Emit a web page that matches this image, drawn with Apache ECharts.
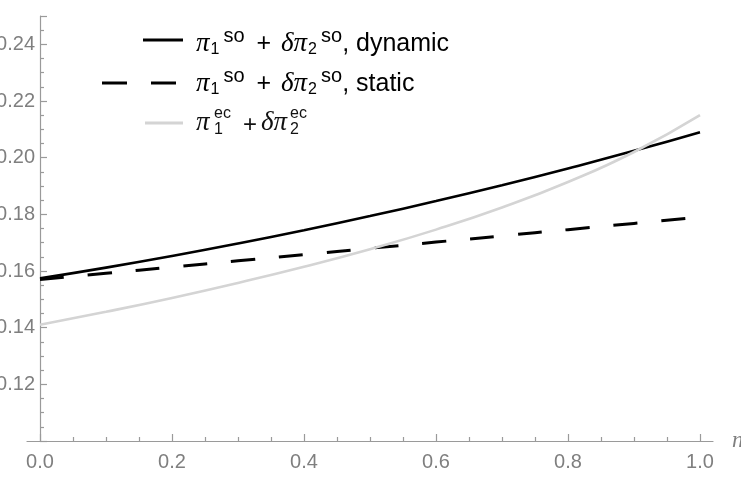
<!DOCTYPE html>
<html>
<head>
<meta charset="utf-8">
<script src="https://cdn.jsdelivr.net/npm/echarts@6/dist/echarts.min.js"></script>
<style>
html,body{margin:0;padding:0;background:#fff;}
#chart{width:741px;height:488px;}
</style>
</head>
<body>
<div id="chart"></div>
<script>
// ---- data ----
var xValues = [0, 0.1, 0.2, 0.3, 0.4, 0.5, 0.6, 0.7, 0.8, 0.9, 1.0];
var dynamicSO = [0.1574, 0.1612, 0.1653, 0.1697, 0.1744, 0.1794, 0.1847, 0.1903, 0.1962, 0.2024, 0.2090];
var staticSO  = [0.1570, 0.1592, 0.1614, 0.1636, 0.1658, 0.1680, 0.1702, 0.1724, 0.1746, 0.1768, 0.1790];
var ecValues  = [0.1410, 0.1456, 0.1505, 0.1558, 0.1615, 0.1677, 0.1746, 0.1824, 0.1914, 0.2020, 0.2150];
var xAxisName = 'n';

function pairs(ys){ return xValues.map(function(x,i){ return [x, ys[i]]; }); }

var AX = '#9a9a9a';
var LBL = '#7f7f7f';
var SANS = '"Liberation Sans", Arial, sans-serif';
var GREEK = '"Liberation Serif", serif';

var chart = echarts.init(document.getElementById('chart'), null, {renderer:'canvas'});

var richStyles = {
  g:   {fontFamily: GREEK, fontStyle:'italic', fontSize: 27, color:'#111'},
  sub: {fontFamily: SANS, fontSize: 16, color:'#111', padding:[11,0,0,1]},
  sup: {fontFamily: SANS, fontSize: 20, color:'#111', padding:[0,0,15,4]},
  op:  {fontFamily: SANS, fontSize: 25, color:'#111', padding:[0,3,0,5]},
  t:   {fontFamily: SANS, fontSize: 25, color:'#111'}
};

var option = {
  animation: false,
  backgroundColor: '#fff',
  grid: [
    {left: 40, right: 41, top: 16, bottom: 47, containLabel: false, outerBoundsMode: 'none'},
    {left: 27, right: 28, top: 16, bottom: 47, containLabel: false, outerBoundsMode: 'none'}
  ],
  xAxis: [{
    gridIndex: 0, type: 'value', min: 0, max: 1, interval: 0.2,
    name: xAxisName, nameLocation: 'end', nameGap: 32,
    nameTextStyle: {fontFamily: GREEK, fontStyle: 'italic', fontSize: 23, color: LBL, verticalAlign: 'middle'},
    axisLine: {show: true, lineStyle: {color: AX, width: 1.2}},
    axisTick: {show: true, inside: true, length: 7, lineStyle: {color: AX, width: 1.2}},
    minorTick: {show: true, splitNumber: 4, length: 4, lineStyle: {color: AX, width: 1.2}},
    axisLabel: {fontFamily: SANS, fontSize: 20, color: LBL, margin: 11,
      formatter: function(v){ return v.toFixed(1); }},
    splitLine: {show: false}
  }, {
    gridIndex: 1, type: 'value', min: 0, max: 1,
    axisLine: {show: true, lineStyle: {color: AX, width: 1.2}},
    axisTick: {show: false}, axisLabel: {show: false}, splitLine: {show: false}
  }],
  yAxis: [{
    gridIndex: 0, type: 'value', min: 0.1, max: 0.25, interval: 0.02,
    axisLine: {show: true, lineStyle: {color: AX, width: 1.2}},
    axisTick: {show: true, inside: true, length: 7, lineStyle: {color: AX, width: 1.2}},
    minorTick: {show: true, splitNumber: 4, length: 4, lineStyle: {color: AX, width: 1.2}},
    axisLabel: {fontFamily: SANS, fontSize: 20, color: LBL, margin: 5,
      showMinLabel: false, showMaxLabel: false,
      formatter: function(v){ return v.toFixed(2); }},
    splitLine: {show: false}
  }, {
    gridIndex: 1, type: 'value', min: 0.1, max: 0.25, show: false
  }],
  series: [{
    name: 'dynamic', type: 'line', xAxisIndex: 0, yAxisIndex: 0,
    data: pairs(dynamicSO), smooth: 0.5, showSymbol: false,
    lineStyle: {color: '#000', width: 2.6}
  }, {
    name: 'static', type: 'line', xAxisIndex: 0, yAxisIndex: 0,
    data: pairs(staticSO), smooth: 0.5, showSymbol: false,
    lineStyle: {color: '#000', width: 3, type: [24, 24]}
  }, {
    name: 'ec', type: 'line', xAxisIndex: 0, yAxisIndex: 0,
    data: pairs(ecValues), smooth: 0.5, showSymbol: false,
    lineStyle: {color: '#d4d4d4', width: 2.6}
  }],
  graphic: [
    {type:'line', shape:{x1:143, y1:40, x2:183, y2:40}, style:{stroke:'#000', lineWidth:2.8}},
    {type:'line', shape:{x1:102, y1:83, x2:176, y2:83}, style:{stroke:'#000', lineWidth:3, lineDash:[25,24]}},
    {type:'line', shape:{x1:145, y1:123, x2:183, y2:123}, style:{stroke:'#d4d4d4', lineWidth:2.8}},
    {type:'text', x:196, y:44, style:{
      text:'{g|π}{sub|1}{sup|so}{op| + }{g|δπ}{sub|2}{sup|so}{t|, dynamic}',
      rich: richStyles, verticalAlign:'middle', align:'left'}},
    {type:'text', x:196, y:84, style:{
      text:'{g|π}{sub|1}{sup|so}{op| + }{g|δπ}{sub|2}{sup|so}{t|, static}',
      rich: richStyles, verticalAlign:'middle', align:'left'}},
    {type:'text', x:196, y:123, style:{text:'π', font:'italic 27px ' + GREEK, fill:'#111', verticalAlign:'middle'}},
    {type:'text', x:214, y:130, style:{text:'1', font:'16px ' + SANS, fill:'#111', verticalAlign:'middle'}},
    {type:'text', x:214, y:114, style:{text:'ec', font:'16px ' + SANS, fill:'#111', verticalAlign:'middle'}},
    {type:'text', x:243, y:125, style:{text:'+', font:'24px ' + SANS, fill:'#111', verticalAlign:'middle'}},
    {type:'text', x:261, y:123, style:{text:'δπ', font:'italic 27px ' + GREEK, fill:'#111', verticalAlign:'middle'}},
    {type:'text', x:290, y:130, style:{text:'2', font:'16px ' + SANS, fill:'#111', verticalAlign:'middle'}},
    {type:'text', x:290, y:114, style:{text:'ec', font:'16px ' + SANS, fill:'#111', verticalAlign:'middle'}}
  ]
};
chart.setOption(option);
</script>
</body>
</html>
